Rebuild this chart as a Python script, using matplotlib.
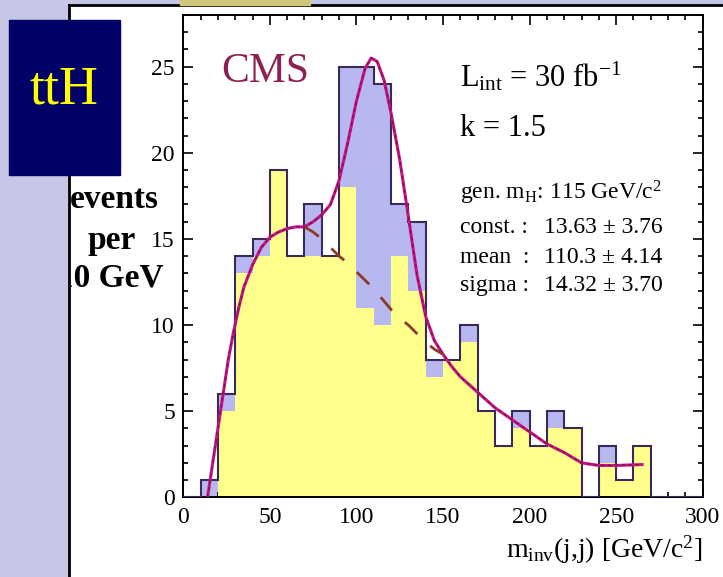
import matplotlib
matplotlib.use('Agg')
import matplotlib.pyplot as plt
from matplotlib.patches import Rectangle
from matplotlib.ticker import MultipleLocator
import numpy as np

plt.rcParams['font.family'] = ['Liberation Serif', 'DejaVu Serif']
plt.rcParams['mathtext.fontset'] = 'custom'
plt.rcParams['mathtext.rm'] = 'Liberation Serif'
plt.rcParams['mathtext.it'] = 'Liberation Serif:italic'
plt.rcParams['lines.scale_dashes'] = False

# histogram, 10 GeV bins from 0 to 300
edges = np.arange(0, 310, 10)
total = [0, 1, 6, 14, 15, 19, 14, 17, 14, 25, 25, 24, 17, 16, 8,
         8, 10, 5, 3, 5, 3, 5, 4, 0, 3, 1, 3, 0, 0, 0]
bkg = [0, 0, 5, 13, 14, 19, 14, 14, 14, 18, 11, 10, 14, 12, 7,
       8, 9, 5, 3, 4, 3, 4, 4, 0, 2, 1, 3, 0, 0, 0]

# fitted curves
fit_x = [14, 17, 20, 23, 26, 29, 32, 35, 40, 45, 50, 55, 60, 65, 70, 75, 80, 85,
         90, 95, 100, 105, 108.5, 112, 116, 120, 125, 130, 135, 140, 145, 150,
         155, 160, 170, 180, 190, 200, 210, 220, 230, 240, 250, 265]
fit_y = [0.0, 2.0, 4.0, 6.0, 8.0, 9.6, 11.0, 12.2, 13.5, 14.5, 15.1, 15.4, 15.6,
         15.7, 15.7, 16.0, 16.4, 17.0, 18.4, 20.6, 23.0, 24.9, 25.5, 25.3, 24.2,
         22.3, 19.6, 16.3, 12.9, 10.5, 9.1, 8.3, 7.6, 7.0, 6.1, 5.2, 4.5, 3.8,
         3.1, 2.6, 2.0, 1.85, 1.85, 1.9]
bkg_x = [70, 75, 80, 85, 90, 95, 100, 105, 110, 115, 120, 125, 130, 135, 140, 145, 150]
bkg_y = [15.7, 15.4, 15.0, 14.5, 14.0, 13.6, 13.1, 12.6, 12.1, 11.5, 10.9, 10.4,
         10.0, 9.5, 9.0, 8.6, 8.3]

W, H = 723, 577
fig = plt.figure(figsize=(7.23, 5.77), dpi=100, facecolor='#c6c6e6')

# white slide panel
panel = fig.add_axes([69 / W, 0, 1 - 69 / W, (H - 5) / H])
panel.set_facecolor('white')
panel.set_xticks([])
panel.set_yticks([])
for s in ['right', 'bottom']:
    panel.spines[s].set_visible(False)
for s in ['left', 'top']:
    panel.spines[s].set_linewidth(2)
fig.patches.append(Rectangle((180 / W, 1 - 5 / H), 130 / W, 5 / H,
                             transform=fig.transFigure, color='#cfc77a', zorder=0))

# y label lines
panel.text(70 / W, 1 - 199 / H, 'events', transform=fig.transFigure, fontsize=24,
           fontweight='bold', va='center', ha='left', clip_on=True)
panel.text(88 / W, 1 - 241 / H, 'per', transform=fig.transFigure, fontsize=24,
           fontweight='bold', va='center', ha='left', clip_on=True)
panel.text(164 / W, 1 - 278 / H, '10 GeV', transform=fig.transFigure, fontsize=24,
           fontweight='bold', va='center', ha='right', clip_on=True)

# ttH box
fig.patches.append(Rectangle((9 / W, 1 - 175 / H), 111 / W, 155 / H,
                             transform=fig.transFigure, color='#000066', zorder=2))
fig.text(64.5 / W, 1 - 90 / H, 'ttH', color='#ffff00', fontsize=39,
         ha='center', va='center', zorder=3)

ax = fig.add_axes([183.3 / W, 1 - 497.3 / H, (702.7 - 183.3) / W, (497.3 - 15) / H])
ax.set_zorder(1)

ax.stairs(total, edges, fill=True, color='#b8b8f0', zorder=1)
ax.stairs(bkg, edges, fill=True, color='#ffff8c', zorder=2)
ax.stairs(total, edges, color='#3a2a5a', linewidth=1.5, zorder=3)

ax.plot(fit_x, fit_y, color='#c8108a', linewidth=2.2, zorder=4)
ax.plot(fit_x, fit_y, color='#7a1a3a', linewidth=1.0, linestyle=(0, (2.5, 2.5)), zorder=5)
ax.plot(bkg_x, bkg_y, color='#8b3a2a', linewidth=2.0, linestyle=(0, (12.5, 12.5)), zorder=5)

ax.set_xlim(0, 300)
ax.set_ylim(0, 28)
ax.xaxis.set_major_locator(MultipleLocator(50))
ax.xaxis.set_minor_locator(MultipleLocator(10))
ax.yaxis.set_major_locator(MultipleLocator(5))
ax.yaxis.set_minor_locator(MultipleLocator(1))
ax.tick_params(which='both', direction='in', top=True, right=True, width=1.2,
               labelsize=17, colors='black')
ax.tick_params(which='major', length=7)
ax.tick_params(which='minor', length=3.5)
ax.tick_params(axis='x', pad=7)
ax.tick_params(axis='y', pad=6)
for s in ax.spines.values():
    s.set_linewidth(1.4)

ax.text(21.8, 24.7, 'CMS', color='#8c2052', fontsize=30, va='center', ha='left')
ax.text(160, 24.4, r'L$_{\rm int}$ = 30 fb$^{-1}$', fontsize=22, va='center', ha='left')
ax.text(160, 21.4, 'k = 1.5', fontsize=22, va='center', ha='left')

sfont = dict(fontsize=17, va='center', ha='left')
ax.text(160, 17.67, r'gen. m$_{\rm H}$: 115 GeV/c$^2$', **sfont)
ax.text(160, 15.64, 'const. :', **sfont)
ax.text(208.4, 15.64, '13.63 ± 3.76', **sfont)
ax.text(160, 13.92, 'mean  :', **sfont)
ax.text(208.4, 13.92, '110.3 ± 4.14', **sfont)
ax.text(160, 12.3, 'sigma :', **sfont)
ax.text(208.4, 12.3, '14.32 ± 3.70', **sfont)

fig.text(702 / W, 1 - 550 / H, r'm$_{\rm inv}$(j,j) [GeV/c$^2$]', fontsize=20,
         ha='right', va='center', zorder=3)

fig.savefig('out.png', dpi=100, facecolor=fig.get_facecolor())
